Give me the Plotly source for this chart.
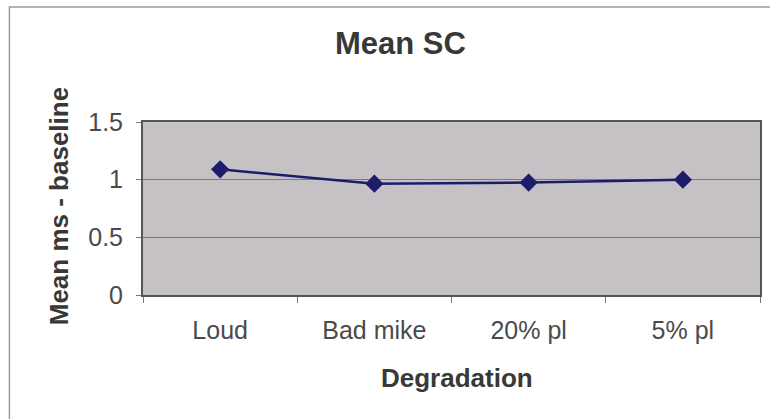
import plotly.graph_objects as go

# Mean SC difference from baseline per degradation condition
categories = ["Loud", "Bad mike", "20% pl", "5% pl"]
mean_ms_minus_baseline = [1.09, 0.965, 0.975, 1.0]
y_ticks = [0, 0.5, 1, 1.5]
y_tick_labels = ["0", "0.5", "1", "1.5"]

W, H = 770, 419
L, R, T, B = 143, 8, 122, 124
PW, PH = W - L - R, H - T - B


def px_to_paper_x(px):
    return (px - L) / PW


def px_to_paper_y(py):
    return (H - B - py) / PH


font_family = "Liberation Sans, Arial, sans-serif"
line_color = "#1c1c6a"

fig = go.Figure()
fig.add_trace(go.Scatter(
    x=categories,
    y=mean_ms_minus_baseline,
    mode="lines+markers",
    line=dict(color=line_color, width=2.5),
    marker=dict(symbol="diamond", size=14, color=line_color),
    showlegend=False,
))

fig.update_layout(
    width=W, height=H,
    margin=dict(l=L, r=R, t=T, b=B),
    paper_bgcolor="white",
    plot_bgcolor="#c5c1c4",
    font=dict(family=font_family, color="#3a3a3a"),
    xaxis=dict(
        type="category",
        range=[-0.5, 3.5],
        tickson="boundaries",
        ticks="outside", ticklen=6, tickcolor="#777777",
        tickfont=dict(size=25, color="#4a4a4a"),
        ticklabelstandoff=12,
        showgrid=False,
        showline=True, linecolor="#555555", linewidth=2, mirror=True,
        title=None,
    ),
    yaxis=dict(
        range=[0, 1.5],
        tickvals=y_ticks, ticktext=y_tick_labels,
        ticks="outside", ticklen=5, tickcolor="#777777",
        tickfont=dict(size=25, color="#4a4a4a"),
        ticklabelstandoff=8,
        showgrid=True, gridcolor="#7c7c7c", gridwidth=1,
        zeroline=False,
        showline=True, linecolor="#555555", linewidth=2, mirror=True,
        title=None,
    ),
)

# Chart title
fig.add_annotation(
    text="<b>Mean SC</b>",
    x=px_to_paper_x(401), y=px_to_paper_y(43), xref="paper", yref="paper",
    xanchor="center", yanchor="middle", showarrow=False,
    font=dict(size=31, color="#383838", family=font_family),
)

# Axis titles
fig.add_annotation(
    text="<b>Degradation</b>",
    x=px_to_paper_x(458), y=px_to_paper_y(378), xref="paper", yref="paper",
    xanchor="center", yanchor="middle", showarrow=False,
    font=dict(size=26, color="#383838", family=font_family),
)
fig.add_annotation(
    text="<b>Mean ms - baseline</b>",
    x=px_to_paper_x(59), y=px_to_paper_y(206), xref="paper", yref="paper",
    xanchor="center", yanchor="middle", showarrow=False, textangle=-90,
    font=dict(size=26, color="#383838", family=font_family),
)

# Chart-area frame
fig.add_shape(
    type="rect", xref="paper", yref="paper",
    x0=px_to_paper_x(9), x1=px_to_paper_x(W + 5),
    y0=px_to_paper_y(H + 5), y1=px_to_paper_y(7),
    line=dict(color="#9a9a9a", width=1.5), fillcolor="rgba(0,0,0,0)",
    layer="below",
)

fig.write_html("out.html")
